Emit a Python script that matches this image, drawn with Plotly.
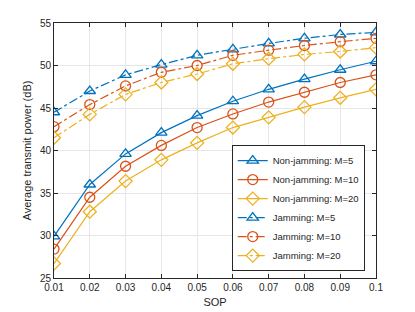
import plotly.graph_objects as go

sop = [0.01, 0.02, 0.03, 0.04, 0.05, 0.06, 0.07, 0.08, 0.09, 0.1]
nj_m5 = [29.9, 36.0, 39.6, 42.1, 44.1, 45.8, 47.2, 48.4, 49.5, 50.5]
nj_m10 = [28.4, 34.5, 38.15, 40.6, 42.7, 44.3, 45.7, 46.85, 48.0, 48.9]
nj_m20 = [26.7, 32.8, 36.4, 38.9, 40.9, 42.7, 43.9, 45.1, 46.2, 47.2]
j_m5 = [44.5, 47.0, 48.9, 50.1, 51.2, 51.9, 52.6, 53.2, 53.65, 53.9]
j_m10 = [42.8, 45.4, 47.6, 49.2, 50.0, 51.2, 51.8, 52.35, 52.8, 53.2]
j_m20 = [41.5, 44.25, 46.6, 48.0, 49.0, 50.2, 50.8, 51.3, 51.65, 52.1]

names = ["Non-jamming: M=5", "Non-jamming: M=10", "Non-jamming: M=20",
         "Jamming: M=5", "Jamming: M=10", "Jamming: M=20"]
series = [nj_m5, nj_m10, nj_m20, j_m5, j_m10, j_m20]
colors = ["#0072BD", "#D95319", "#EDB120"] * 2
symbols = ["triangle-up-open", "circle-open", "diamond-open"] * 2
dashes = ["solid"] * 3 + ["dashdot"] * 3

fig = go.Figure()
for n, s, c, m, d in zip(names, series, colors, symbols, dashes):
    fig.add_trace(go.Scatter(
        x=sop, y=s, name=n, mode="lines+markers",
        line=dict(color=c, width=1.2, dash=d),
        marker=dict(symbol=m, size=10, color=c, line=dict(width=1.3, color=c)),
    ))

axis_common = dict(
    showline=True, linecolor="#262626", linewidth=1, mirror="ticks",
    ticks="inside", ticklen=4, tickcolor="#262626",
    showgrid=True, gridcolor="#E6E6E6", gridwidth=1,
    zeroline=False, tickfont=dict(size=10, color="#262626"),
    automargin=False,
)

fig.update_layout(
    width=407, height=304,
    margin=dict(l=46, r=39, t=15, b=34),
    paper_bgcolor="white", plot_bgcolor="white",
    font=dict(family="Liberation Sans, Arial, sans-serif", color="#262626"),
    xaxis=dict(range=[0.01, 0.1], tickvals=sop,
               ticktext=["0.01", "0.02", "0.03", "0.04", "0.05", "0.06", "0.07", "0.08", "0.09", "0.1"],
               title=dict(text="SOP", font=dict(size=11), standoff=6), **axis_common),
    yaxis=dict(range=[25, 55], tickvals=[25, 30, 35, 40, 45, 50, 55],
               title=dict(text="Average transmit power (dB)", font=dict(size=11), standoff=6), **axis_common),
    legend=dict(x=0.965, y=0.027, xanchor="right", yanchor="bottom",
                bgcolor="white", bordercolor="#262626", borderwidth=1,
                font=dict(size=9.5), tracegroupgap=0, itemwidth=30),
    showlegend=True,
)

fig.write_html("out.html")
